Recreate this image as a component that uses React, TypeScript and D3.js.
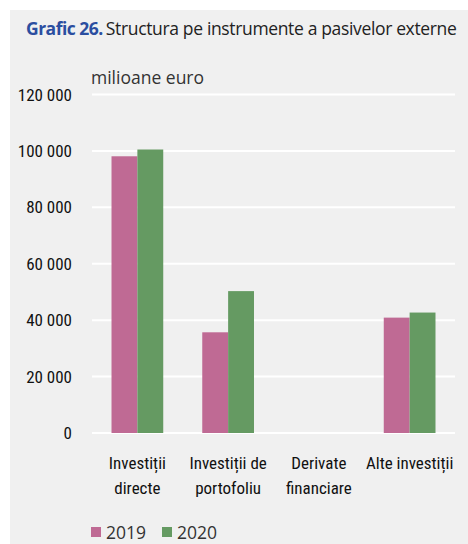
import React from "react";
import * as d3 from "d3";

const categories = [
  ["Investiții", "directe"],
  ["Investiții de", "portofoliu"],
  ["Derivate", "financiare"],
  ["Alte investiții"],
];
const series = ["2019", "2020"];
const values2019 = [98100, 35700, 0, 40900];
const values2020 = [100500, 50300, 0, 42700];
const yTicks = [0, 20000, 40000, 60000, 80000, 100000, 120000];
const colors = ["#bf6a94", "#659a62"];

const W = 468;
const H = 544;
const M = { left: 92, right: 455, top: 94.5, bottom: 433 };
const narrow = "'Liberation Sans Narrow', 'Arial Narrow', 'Roboto Condensed', sans-serif";
const regular = "'Open Sans', 'Noto Sans', sans-serif";

export default function App() {
  const x = d3
    .scaleBand<number>()
    .domain(d3.range(categories.length))
    .range([M.left, M.right])
    .paddingInner(0.43)
    .paddingOuter(0.215);
  const x1 = d3.scaleBand<number>().domain([0, 1]).range([0, x.bandwidth()]);
  const y = d3.scaleLinear().domain([0, 120000]).range([M.bottom, M.top]);
  const fmt = (v: number) => d3.format(",")(v).replace(/,/g, " ");
  const data = [values2019, values2020];

  return (
    <svg
      width={W}
      height={H}
      style={{ position: "absolute", left: 0, top: 0, background: "#ffffff" }}
    >
      <rect x={10} y={10} width={W - 10} height={H - 10} fill="#f0f0f0" />
      <text x={26} y={35} fontSize={17.5} fontFamily={regular} fill="#222">
        <tspan fontWeight="bold" fill="#2b4ea0" letterSpacing={-0.5}>
          Grafic 26.
        </tspan>
        <tspan dx={3} letterSpacing={-0.35}>Structura pe instrumente a pasivelor externe</tspan>
      </text>
      <text x={91} y={84} fontSize={17.5} fontFamily={regular} fill="#333">
        milioane euro
      </text>
      {yTicks.map((t) => (
        <g key={t}>
          <line x1={M.left} x2={M.right} y1={y(t)} y2={y(t)} stroke="#ffffff" strokeWidth={2} />
          <text
            x={72}
            y={y(t) + 6}
            textAnchor="end"
            fontSize={17}
            fontFamily={narrow}
            fill="#111"
          >
            {fmt(t)}
          </text>
        </g>
      ))}
      {data.map((vals, si) =>
        vals.map((v, ci) => (
          <rect
            key={`${si}-${ci}`}
            x={(x(ci) as number) + (x1(si) as number)}
            y={y(v)}
            width={x1.bandwidth()}
            height={M.bottom - y(v)}
            fill={colors[si]}
          />
        ))
      )}
      {categories.map((lines, ci) => (
        <text
          key={ci}
          x={(x(ci) as number) + x.bandwidth() / 2}
          y={469}
          textAnchor="middle"
          fontSize={17}
          fontFamily={narrow}
          fill="#111"
        >
          {lines.map((l, li) => (
            <tspan key={li} x={(x(ci) as number) + x.bandwidth() / 2} dy={li === 0 ? 0 : 25}>
              {l}
            </tspan>
          ))}
        </text>
      ))}
      {series.map((s, si) => (
        <g key={s} transform={`translate(${91 + si * 71},0)`}>
          <rect x={0} y={527} width={10} height={10} fill={colors[si]} />
          <text x={15} y={539} fontSize={17.5} fontFamily={regular} fill="#333">
            {s}
          </text>
        </g>
      ))}
    </svg>
  );
}
